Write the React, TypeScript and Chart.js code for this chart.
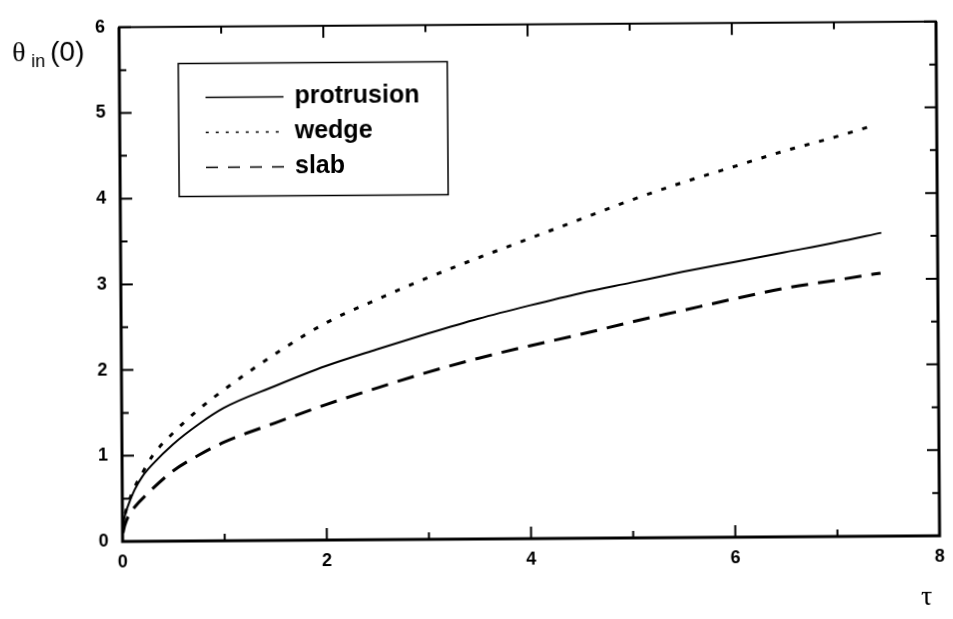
import React, { useEffect, useRef } from "react";
import { Chart, registerables } from "chart.js";

Chart.register(...registerables);

// ---- Data ----
const tauProtrusion = [0.005, 0.02, 0.06, 0.12, 0.2, 0.3, 0.5, 0.75, 1.0, 1.5, 2.0, 2.5, 3.0, 3.5, 4.0, 4.5, 5.0, 5.5, 6.0, 6.5, 7.0, 7.45];
const protrusion = [0.15, 0.28, 0.43, 0.6, 0.76, 0.9, 1.13, 1.36, 1.55, 1.8, 2.03, 2.22, 2.4, 2.57, 2.72, 2.86, 2.98, 3.1, 3.21, 3.32, 3.43, 3.54];

const tauWedge = [0.005, 0.02, 0.06, 0.12, 0.2, 0.3, 0.5, 0.75, 1.0, 1.5, 2.0, 2.5, 3.0, 3.5, 4.0, 4.5, 5.0, 5.5, 6.0, 6.5, 7.0, 7.4];
const wedge = [0.15, 0.28, 0.45, 0.63, 0.8, 1.0, 1.26, 1.53, 1.76, 2.17, 2.53, 2.8, 3.05, 3.28, 3.5, 3.72, 3.94, 4.14, 4.32, 4.5, 4.66, 4.8];

const tauSlab = [0.005, 0.02, 0.06, 0.12, 0.25, 0.5, 0.75, 1.0, 1.5, 2.0, 2.5, 3.0, 3.5, 4.0, 4.5, 5.0, 5.5, 6.0, 6.5, 7.0, 7.44];
const slab = [0.1, 0.18, 0.3, 0.4, 0.56, 0.82, 1.0, 1.15, 1.37, 1.58, 1.77, 1.95, 2.11, 2.25, 2.38, 2.52, 2.65, 2.78, 2.9, 2.99, 3.07];

const seriesLabels = ["protrusion", "wedge", "slab"];

const xTicks = [0, 2, 4, 6, 8];
const xMinorTicks = [1, 3, 5, 7];
const yTicks = [0, 1, 2, 3, 4, 5, 6];
const yMinorTicks = [0.5, 1.5, 2.5, 3.5, 4.5, 5.5];

const yTitleMain = "\u03B8";
const yTitleSub = "in";
const yTitleTail = "(0)";
const xTitle = "\u03C4";

const toPoints = (xs: number[], ys: number[]) => xs.map((x, i) => ({ x, y: ys[i] }));

const SANS = '"Liberation Sans", Arial, sans-serif';
const SERIF = '"Liberation Serif", "Times New Roman", serif';

const framePlugin = {
  id: "frameTicks",
  afterDraw(chart: any) {
    const { ctx, chartArea: a, scales } = chart;
    const xs = scales.x;
    const ys = scales.y;
    ctx.save();
    ctx.strokeStyle = "#000";
    ctx.lineCap = "butt";
    // frame
    ctx.lineWidth = 3;
    ctx.beginPath();
    ctx.moveTo(a.left, a.top);
    ctx.lineTo(a.left, a.bottom);
    ctx.lineTo(a.right, a.bottom);
    ctx.lineTo(a.right, a.top);
    ctx.stroke();
    ctx.lineWidth = 2;
    ctx.beginPath();
    ctx.moveTo(a.left - 1, a.top);
    ctx.lineTo(a.right + 1, a.top);
    ctx.stroke();

    // ticks (inward, all four sides)
    ctx.lineWidth = 2;
    const drawX = (vals: number[], len: number) => {
      vals.forEach((v) => {
        const px = xs.getPixelForValue(v);
        ctx.beginPath();
        ctx.moveTo(px, a.bottom);
        ctx.lineTo(px, a.bottom - len);
        ctx.moveTo(px, a.top);
        ctx.lineTo(px, a.top + len);
        ctx.stroke();
      });
    };
    const drawY = (vals: number[], len: number) => {
      vals.forEach((v) => {
        const py = ys.getPixelForValue(v);
        ctx.beginPath();
        ctx.moveTo(a.left, py);
        ctx.lineTo(a.left + len, py);
        ctx.moveTo(a.right, py);
        ctx.lineTo(a.right - len, py);
        ctx.stroke();
      });
    };
    drawX(xTicks, 12);
    drawX(xMinorTicks, 7);
    drawY(yTicks, 12);
    drawY(yMinorTicks, 7);

    // axis titles
    ctx.fillStyle = "#000";
    ctx.textBaseline = "alphabetic";
    ctx.textAlign = "left";
    ctx.font = `28px ${SERIF}`;
    ctx.fillText(yTitleMain, 14, 58);
    ctx.font = `18px ${SANS}`;
    ctx.fillText(yTitleSub, 33, 64);
    ctx.font = `28px ${SANS}`;
    ctx.fillText(yTitleTail, 52, 58);
    ctx.font = `28px ${SERIF}`;
    ctx.fillText(xTitle, 919, 608);

    // legend
    const lx = 180, ly = 61.5, lw = 269, lh = 133;
    ctx.lineWidth = 1.5;
    ctx.strokeRect(lx, ly, lw, lh);
    const legendDash = [[], [3, 7], [12, 10]];
    const rows = [95.5, 130.5, 165.5];
    chart.data.datasets.forEach((ds: any, i: number) => {
      ctx.save();
      ctx.lineWidth = 1.5;
      ctx.setLineDash(legendDash[i]);
      ctx.beginPath();
      ctx.moveTo(207, rows[i]);
      ctx.lineTo(285, rows[i]);
      ctx.stroke();
      ctx.restore();
      ctx.font = `bold 25px ${SANS}`;
      ctx.textBaseline = "middle";
      ctx.fillText(ds.label, 296, rows[i]);
    });
    ctx.restore();
  },
};

export default function App() {
  const ref = useRef<HTMLCanvasElement | null>(null);
  useEffect(() => {
    if (!ref.current) return;
    const chart = new Chart(ref.current, {
      type: "line",
      data: {
        datasets: [
          {
            label: seriesLabels[0],
            data: toPoints(tauProtrusion, protrusion),
            borderColor: "#000",
            borderWidth: 2,
            pointRadius: 0,
            cubicInterpolationMode: "monotone",
            fill: false,
          },
          {
            label: seriesLabels[1],
            data: toPoints(tauWedge, wedge),
            borderColor: "#000",
            borderWidth: 3,
            borderDash: [5, 10],
            pointRadius: 0,
            cubicInterpolationMode: "monotone",
            fill: false,
          },
          {
            label: seriesLabels[2],
            data: toPoints(tauSlab, slab),
            borderColor: "#000",
            borderWidth: 3,
            borderDash: [17, 10],
            pointRadius: 0,
            cubicInterpolationMode: "monotone",
            fill: false,
          },
        ],
      },
      options: {
        animation: false,
        responsive: false,
        maintainAspectRatio: false,
        layout: { padding: { left: 0, right: 10.5, top: 13, bottom: 0 } },
        plugins: { legend: { display: false }, tooltip: { enabled: false }, title: { display: false } },
        scales: {
          x: {
            type: "linear",
            min: 0,
            max: 8,
            afterBuildTicks: (s: any) => {
              s.ticks = xTicks.map((v) => ({ value: v }));
            },
            afterFit: (s: any) => {
              s.height = 80;
            },
            grid: { display: false, drawTicks: false },
            border: { display: false },
            ticks: {
              color: "#000",
              padding: 10,
              maxRotation: 0,
              autoSkip: false,
              font: { family: SANS, size: 18, weight: "bold" },
            },
          },
          y: {
            type: "linear",
            min: 0,
            max: 6,
            afterBuildTicks: (s: any) => {
              s.ticks = yTicks.map((v) => ({ value: v }));
            },
            afterFit: (s: any) => {
              s.width = 121;
            },
            grid: { display: false, drawTicks: false },
            border: { display: false },
            ticks: {
              color: "#000",
              padding: 14,
              autoSkip: false,
              font: { family: SANS, size: 18, weight: "bold" },
            },
          },
        },
      },
      plugins: [framePlugin],
    } as any);
    return () => chart.destroy();
  }, []);

  return (
    <div style={{ position: "absolute", left: 0, top: 0, width: 953, height: 619, background: "#fff", overflow: "hidden" }}>
      <canvas
        ref={ref}
        width={953}
        height={619}
        style={{ display: "block", transform: "rotate(-0.4deg)", transformOrigin: "476.5px 309.5px" }}
      />
    </div>
  );
}
